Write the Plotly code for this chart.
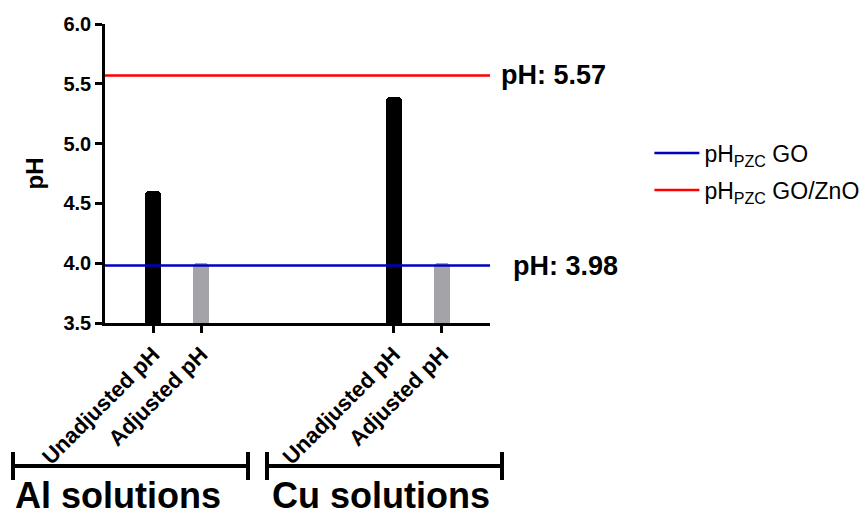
import plotly.graph_objects as go

# ---- data ----
groups = ["Al solutions", "Cu solutions"]
conditions = ["Unadjusted pH", "Adjusted pH"]
unadjusted_ph = [4.60, 5.39]
adjusted_ph = [4.00, 4.00]
pzc_names = ["pH<sub>PZC</sub> GO", "pH<sub>PZC</sub> GO/ZnO"]
pzc_values = [3.98, 5.57]
y_ticks = [3.5, 4.0, 4.5, 5.0, 5.5, 6.0]

# ---- layout constants ----
pos_unadj = [0, 5]
pos_adj = [1, 6]
x_range = [-1, 7]
FONT = "Liberation Sans, Arial, sans-serif"
pzc_colors = ["#0000c0", "#ff0000"]

fig = go.Figure()
fig.add_trace(go.Bar(x=pos_unadj, y=unadjusted_ph, width=0.33,
                     marker=dict(color="#000000", cornerradius=4, line=dict(width=0)),
                     showlegend=False))
fig.add_trace(go.Bar(x=pos_adj, y=adjusted_ph, width=0.33,
                     marker=dict(color="#a3a3a8", cornerradius=4, line=dict(width=0)),
                     showlegend=False))
for i, (nm, v, c) in enumerate(zip(pzc_names, pzc_values, pzc_colors)):
    fig.add_trace(go.Scatter(x=x_range, y=[v, v], mode="lines", name=nm,
                             legendgroup=f"g{i}",
                             line=dict(color=c, width=2.5)))

tickvals = []
ticktext = []
for a, b in zip(pos_unadj, pos_adj):
    tickvals += [a, b]
    ticktext += conditions

fig.update_layout(
    width=865, height=515,
    margin=dict(l=105, r=375, t=24, b=192, autoexpand=False),
    plot_bgcolor="white", paper_bgcolor="white",
    font=dict(family=FONT, color="black"),
    bargap=0,
    legend=dict(x=1.414, y=0.64, xanchor="left", yanchor="top",
                font=dict(size=23, family=FONT), tracegroupgap=4,
                itemwidth=45,
                traceorder="grouped", bgcolor="rgba(0,0,0,0)"),
    xaxis=dict(range=x_range, tickvals=tickvals, ticktext=ticktext,
               tickangle=-45, showgrid=False, zeroline=False,
               showline=True, linecolor="black", linewidth=2.5,
               ticks="outside", ticklen=7, tickwidth=2.5, tickcolor="black",
               tickfont=dict(size=22, family=FONT, weight="bold")),
    yaxis=dict(range=[3.5, 6.0], tickvals=y_ticks, tickformat=".1f",
               showgrid=False, zeroline=False,
               showline=True, linecolor="black", linewidth=2.5,
               ticks="outside", ticklen=7, tickwidth=2.5, tickcolor="black",
               tickfont=dict(size=20, family=FONT, weight="bold"),
               title=dict(text="pH", font=dict(size=24, family=FONT, weight="bold"),
                          standoff=14)),
)

# value annotations for pzc lines
ann_x = [1.055, 1.024]
for v, ax in zip(pzc_values, ann_x):
    fig.add_annotation(x=ax, xref="paper", y=v, yref="y", text=f"<b>pH: {v:.2f}</b>",
                       showarrow=False, xanchor="left", yanchor="middle",
                       font=dict(size=27, family=FONT, color="black"))

# group brackets
def px2x(px):
    return (px - 105) / 385

def px2y(py):
    return (323 - py) / 299

brackets = [(13, 248), (267, 502)]
label_centers = [118, 381]
for (x0, x1), cx, g in zip(brackets, label_centers, groups):
    fig.add_shape(type="line", xref="paper", yref="paper",
                  x0=px2x(x0), x1=px2x(x1), y0=px2y(466), y1=px2y(466),
                  line=dict(color="black", width=4))
    for xx in (x0, x1):
        fig.add_shape(type="line", xref="paper", yref="paper",
                      x0=px2x(xx), x1=px2x(xx), y0=px2y(452), y1=px2y(480),
                      line=dict(color="black", width=4))
    fig.add_annotation(x=px2x(cx), xref="paper", y=px2y(496), yref="paper",
                       text=f"<b>{g}</b>", showarrow=False, xanchor="center",
                       yanchor="middle", font=dict(size=36, family=FONT, color="black"))

fig.write_html("out.html", config={"displayModeBar": False},
               post_script="document.body.style.margin='0';")
